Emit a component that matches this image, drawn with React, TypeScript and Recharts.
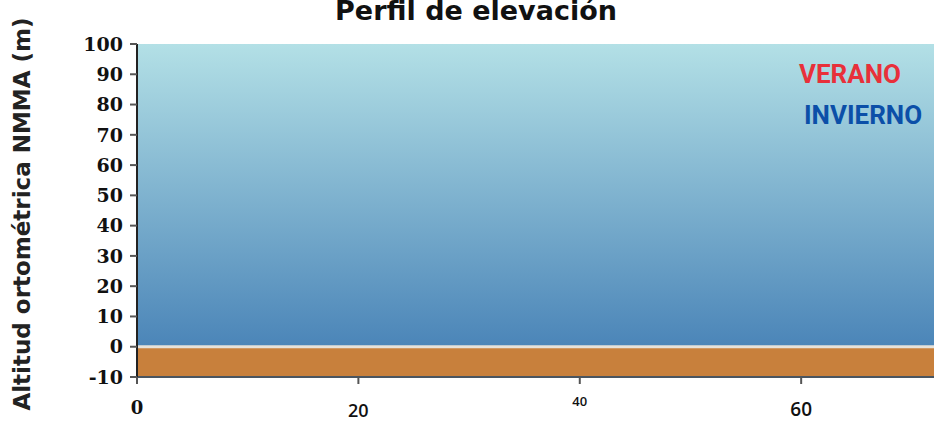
import React from 'react';
import {
  ComposedChart, Area, XAxis, YAxis, ReferenceLine
} from 'recharts';

// Perfil de elevación - flat profile, sky above 0 m, ground down to -10 m
const distances: number[] = [0, 20, 40, 60, 72];
const skyTop: number[] = [100, 100, 100, 100, 100];
const groundTop: number[] = [0, 0, 0, 0, 0];
const groundBottom: number[] = [-10, -10, -10, -10, -10];

const yTicks: number[] = [100, 90, 80, 70, 60, 50, 40, 30, 20, 10, 0, -10];
const xTicks: number[] = [0, 20, 40, 60];

const profileData = distances.map((d, i) => ({
  dist: d,
  sky: [groundTop[i], skyTop[i]],
  ground: [groundBottom[i], groundTop[i]],
}));

// each x label in the original uses its own font
const xTickStyles = [
  { fontFamily: 'DejaVu Serif', fontWeight: 700, fontSize: 18, dy: 28 },
  { fontFamily: 'Open Sans', fontWeight: 600, fontSize: 18, dy: 31 },
  { fontFamily: 'Open Sans', fontWeight: 600, fontSize: 13, dy: 20 },
  { fontFamily: 'Open Sans', fontWeight: 600, fontSize: 19, dy: 30 },
];

const XTick = (props: any) => {
  const { x, y, payload, index } = props;
  const s = xTickStyles[index % xTickStyles.length];
  return (
    <text x={x} y={y} dy={s.dy} textAnchor="middle" fill="#111"
      fontFamily={s.fontFamily} fontWeight={s.fontWeight} fontSize={s.fontSize}>
      {payload.value}
    </text>
  );
};

const App: React.FC = () => {
  return (
    <div style={{ position: 'absolute', left: 0, top: 0, width: 934, height: 421, background: '#fff', overflow: 'hidden' }}>
      <ComposedChart width={934} height={421} data={profileData}
        margin={{ top: 44, right: 0, bottom: 14, left: 0 }}>
        <defs>
          <linearGradient id="skyGrad" x1="0" y1="0" x2="0" y2="1">
            <stop offset="0%" stopColor="#b3e0e6" />
            <stop offset="100%" stopColor="#4b85b8" />
          </linearGradient>
        </defs>
        <XAxis dataKey="dist" type="number" domain={[0, 72]} ticks={xTicks}
          allowDataOverflow stroke="#4a5560" strokeWidth={2} height={30}
          tickLine={{ stroke: '#555' }} tickSize={7} tick={<XTick />} interval={0} />
        <YAxis type="number" domain={[-10, 100]} ticks={yTicks} interval={0}
          width={137} stroke="#222" strokeWidth={2}
          tickLine={{ stroke: '#555' }} tickSize={7} tickMargin={7}
          tick={{ fill: '#111', fontFamily: 'DejaVu Serif', fontWeight: 700, fontSize: 19 }} />
        <Area type="linear" dataKey="sky" stroke="none" fill="url(#skyGrad)" fillOpacity={1} isAnimationActive={false} />
        <Area type="linear" dataKey="ground" stroke="none" fill="#c8803c" fillOpacity={1} isAnimationActive={false} />
        <ReferenceLine y={0} stroke="#e6e2da" strokeWidth={3} />
      </ComposedChart>
      <div style={{ position: 'absolute', left: 0, width: 952, top: -5, textAlign: 'center',
        fontFamily: 'DejaVu Sans', fontWeight: 700, fontSize: 27, color: '#111' }}>
        Perfil de elevación
      </div>
      <div style={{ position: 'absolute', left: 22, top: 214, transform: 'translate(-50%, -50%) rotate(-90deg)',
        whiteSpace: 'nowrap', fontFamily: 'DejaVu Sans', fontWeight: 700, fontSize: 23, color: '#222' }}>
        Altitud ortométrica NMMA (m)
      </div>
      <div style={{ position: 'absolute', left: 799, top: 59, fontFamily: 'Roboto', fontWeight: 700, fontSize: 26, color: '#e8303a' }}>
        VERANO
      </div>
      <div style={{ position: 'absolute', left: 804, top: 100, fontFamily: 'Roboto', fontWeight: 700, fontSize: 26, color: '#0b4fa8' }}>
        INVIERNO
      </div>
    </div>
  );
};

export default App;
